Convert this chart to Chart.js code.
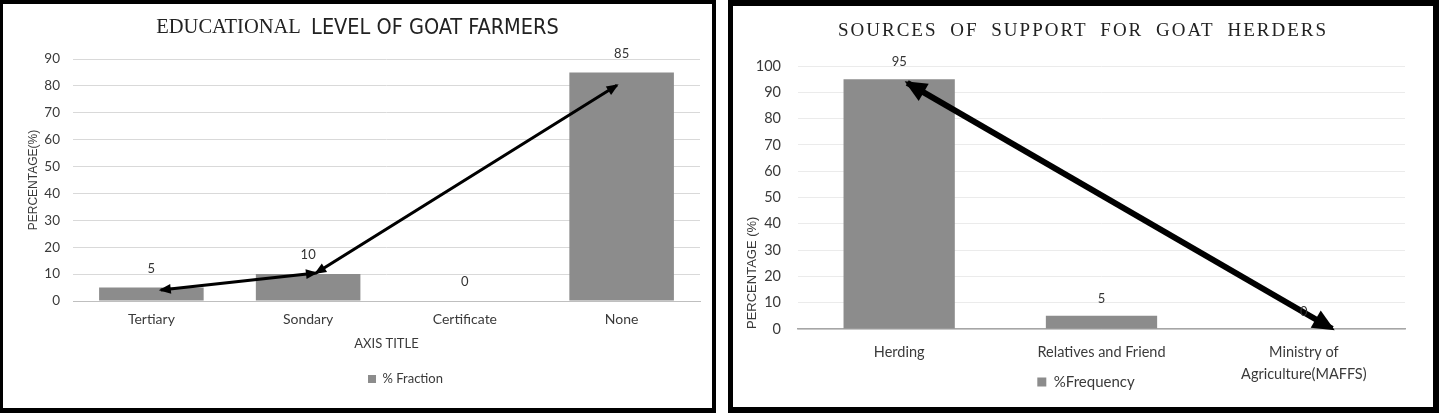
<!DOCTYPE html>
<html>
<head>
<meta charset="utf-8">
<script src="https://cdn.jsdelivr.net/npm/chart.js@4"></script>
<style>
  body { margin: 0; background: #fff; width: 1439px; height: 413px; position: relative; overflow: hidden; }
  .panel { position: absolute; top: 0; box-sizing: border-box; border: solid #000; background: #fff; }
  #leftPanel { left: 0; width: 716px; height: 413px; border-width: 4px 4px 5px 3px; }
  #rightPanel { left: 728px; width: 711px; height: 413px; border-width: 6px 6px 6px 5px; }
  .box { position: relative; width: 100%; height: 100%; }
</style>
</head>
<body>
<div class="panel" id="leftPanel"><div class="box"><canvas id="chartEdu"></canvas></div></div>
<div class="panel" id="rightPanel"><div class="box"><canvas id="chartSupport"></canvas></div></div>
<script>
// Grafico 1: livello di istruzione degli allevatori
const eduCategories = ['Tertiary', 'Sondary', 'Certificate', 'None'];
const eduValues = [5, 10, 0, 85];
const eduYMax = 90;
// freccia disegnata sopra il grafico (posizione in unità categoria / percentuale)
const eduArrowX = [0.06, 1.05, 2.97];
const eduArrowY = [4.1, 10.4, 80.2];

// Grafico 2: fonti di supporto
const supCategories = ['Herding', 'Relatives and Friend', ['Ministry of', 'Agriculture(MAFFS)']];
const supValues = [95, 5, 0];
const supYMax = 100;
const supArrowX = [0.04, 2.14];
const supArrowY = [93.6, 0.1];

const barGrey = '#8c8c8c';
const textGrey = '#3a3a3a';

// titolo con font misti
const mixedTitle = {
  id: 'mixedTitle',
  afterDraw(chart, args, opts) {
    const ctx = chart.ctx;
    ctx.save();
    ctx.textBaseline = 'middle';
    ctx.textAlign = 'left';
    ctx.fillStyle = opts.color;
    let total = 0;
    opts.parts.forEach(p => {
      ctx.font = p.font;
      ctx.letterSpacing = (p.spacing || 0) + 'px';
      ctx.wordSpacing = (p.wordSpacing || 0) + 'px';
      total += ctx.measureText(p.text).width;
    });
    let x = chart.width / 2 - total / 2;
    opts.parts.forEach(p => {
      ctx.font = p.font;
      ctx.letterSpacing = (p.spacing || 0) + 'px';
      ctx.wordSpacing = (p.wordSpacing || 0) + 'px';
      ctx.fillText(p.text, x, opts.y);
      x += ctx.measureText(p.text).width;
    });
    ctx.restore();
  }
};

// etichette valori sopra le barre
const valueLabels = {
  id: 'valueLabels',
  afterDatasetsDraw(chart, args, opts) {
    const ctx = chart.ctx;
    const meta = chart.getDatasetMeta(0);
    const ds = chart.data.datasets[0];
    ctx.save();
    ctx.font = '13px Lato';
    ctx.fillStyle = '#333';
    ctx.textAlign = 'center';
    ctx.textBaseline = 'middle';
    meta.data.forEach((el, i) => {
      ctx.fillText(String(ds.data[i]), el.x, el.y - opts.offset);
    });
    ctx.restore();
  }
};

function drawHead(ctx, tip, from, len, w, ext) {
  const a = Math.atan2(tip.y - from.y, tip.x - from.x);
  const c = Math.cos(a), s = Math.sin(a);
  const tx = tip.x + ext * c, ty = tip.y + ext * s;
  ctx.beginPath();
  ctx.moveTo(tx, ty);
  ctx.lineTo(tx - len * c + w / 2 * s, ty - len * s - w / 2 * c);
  ctx.lineTo(tx - len * c - w / 2 * s, ty - len * s + w / 2 * c);
  ctx.closePath();
  ctx.fill();
}

// punte delle frecce alle estremità della linea
const arrowHeads = {
  id: 'arrowHeads',
  afterDatasetsDraw(chart, args, opts) {
    const pts = chart.getDatasetMeta(1).data;
    const ctx = chart.ctx;
    ctx.save();
    ctx.fillStyle = '#000';
    for (let i = 0; i < pts.length - 1; i++) {
      drawHead(ctx, pts[i + 1], pts[i], opts.len, opts.width, opts.ext);
      drawHead(ctx, pts[i], pts[i + 1], opts.len, opts.width, opts.ext);
    }
    ctx.restore();
  }
};

// sposta la legenda; opzionalmente lascia spazio alle etichette su due righe
const layoutTweak = {
  id: 'layoutTweak',
  afterLayout(chart, args, opts) {
    const lg = chart.legend;
    lg.left += opts.dx; lg.right += opts.dx;
    if (opts.extendX) {
      const sx = chart.scales.x;
      sx.bottom = chart.height;
      sx.height = sx.bottom - sx.top;
    }
  }
};

function arrowPoints(xs, ys) {
  return xs.map((x, i) => ({ x: x, y: ys[i] }));
}

// ------------------------------
const chartEdu = new Chart(document.getElementById('chartEdu'), {
  type: 'bar',
  data: {
    labels: eduCategories,
    datasets: [{
      label: '% Fraction',
      data: eduValues,
      backgroundColor: barGrey,
      grouped: false,
      categoryPercentage: 1,
      barPercentage: 0.667,
      order: 2
    }, {
      type: 'line',
      label: 'arrow',
      xAxisID: 'xa',
      data: arrowPoints(eduArrowX, eduArrowY),
      borderColor: '#000',
      borderWidth: 3,
      pointRadius: 0,
      order: 1
    }]
  },
  options: {
    responsive: true,
    maintainAspectRatio: false,
    animation: false,
    layout: { padding: { top: 55, right: 12, bottom: 12.5, left: 0 } },
    scales: {
      x: {
        grid: { display: false, drawTicks: false },
        border: { display: true, color: '#bfbfbf', width: 1 },
        ticks: { color: textGrey, font: { family: 'Lato', size: 14 }, padding: 10.5 },
        title: { display: true, text: 'AXIS TITLE', color: textGrey, font: { family: 'Lato', size: 13 }, padding: { top: 0, bottom: 11 } },
        afterFit(scale) { scale.height = 61.5; }
      },
      xa: { type: 'linear', display: false, min: -0.5, max: eduCategories.length - 0.5, offset: false },
      y: {
        min: 0, max: eduYMax,
        grid: { color: '#d9d9d9', drawTicks: false },
        border: { display: false },
        ticks: { stepSize: 10, color: textGrey, font: { family: 'Lato', size: 13.5 }, padding: 13 },
        title: { display: true, text: 'PERCENTAGE(%)', color: textGrey, font: { family: 'Liberation Sans', size: 12 }, padding: { top: 23, bottom: 0 } },
        afterFit(scale) { scale.width = 70; }
      }
    },
    plugins: {
      legend: {
        position: 'bottom',
        labels: { boxWidth: 8, boxHeight: 8, color: textGrey, font: { family: 'Lato', size: 13 }, padding: 10,
          filter: item => item.datasetIndex === 0 }
      },
      tooltip: { enabled: false },
      mixedTitle: {
        y: 24, color: '#222',
        parts: [
          { text: 'EDUCATIONAL  ', font: '20.5px "Liberation Serif"' },
          { text: 'LEVEL OF GOAT FARMERS', font: '21.5px "DejaVu Sans Condensed", "DejaVu Sans"' }
        ]
      },
      valueLabels: { offset: 19 },
      arrowHeads: { len: 12, width: 10, ext: 2 },
      layoutTweak: { dx: 54, extendX: false }
    }
  },
  plugins: [mixedTitle, valueLabels, arrowHeads, layoutTweak]
});

// ------------------------------
const chartSupport = new Chart(document.getElementById('chartSupport'), {
  type: 'bar',
  data: {
    labels: supCategories,
    datasets: [{
      label: '%Frequency',
      data: supValues,
      backgroundColor: barGrey,
      grouped: false,
      categoryPercentage: 1,
      barPercentage: 0.55,
      order: 2
    }, {
      type: 'line',
      label: 'arrow',
      xAxisID: 'xa',
      data: arrowPoints(supArrowX, supArrowY),
      borderColor: '#000',
      borderWidth: 6,
      pointRadius: 0,
      order: 1
    }]
  },
  options: {
    responsive: true,
    maintainAspectRatio: false,
    animation: false,
    layout: { padding: { top: 60, right: 28, bottom: 7.5, left: 0 } },
    scales: {
      x: {
        grid: { display: false, drawTicks: false },
        border: { display: true, color: '#a6a6a6', width: 1.5 },
        ticks: { color: textGrey, font: { family: 'Lato', size: 14.5, lineHeight: 1.55 }, padding: 12 },
        afterFit(scale) { scale.height = 35.5; }
      },
      xa: { type: 'linear', display: false, min: -0.5, max: supCategories.length - 0.5, offset: false },
      y: {
        min: 0, max: supYMax,
        grid: { color: '#ebebeb', drawTicks: false },
        border: { display: false },
        ticks: { stepSize: 10, color: textGrey, font: { family: 'Lato', size: 14.5 }, padding: 17 },
        title: { display: true, text: 'PERCENTAGE (%)', align: 'start', color: textGrey, font: { family: 'Liberation Sans', size: 13 }, padding: { top: 12, bottom: 0 } },
        afterFit(scale) { scale.width = 65; }
      }
    },
    plugins: {
      legend: {
        position: 'bottom',
        labels: { boxWidth: 9, boxHeight: 9, color: textGrey, font: { family: 'Lato', size: 15 }, padding: 10,
          filter: item => item.datasetIndex === 0 }
      },
      tooltip: { enabled: false },
      mixedTitle: {
        y: 25, color: '#222',
        parts: [
          { text: 'SOURCES OF SUPPORT FOR GOAT HERDERS', font: '19px "Liberation Serif"', spacing: 2, wordSpacing: 6 }
        ]
      },
      valueLabels: { offset: 17 },
      arrowHeads: { len: 22, width: 20, ext: 3 },
      layoutTweak: { dx: 17, extendX: true }
    }
  },
  plugins: [mixedTitle, valueLabels, arrowHeads, layoutTweak]
});
</script>
</body>
</html>
